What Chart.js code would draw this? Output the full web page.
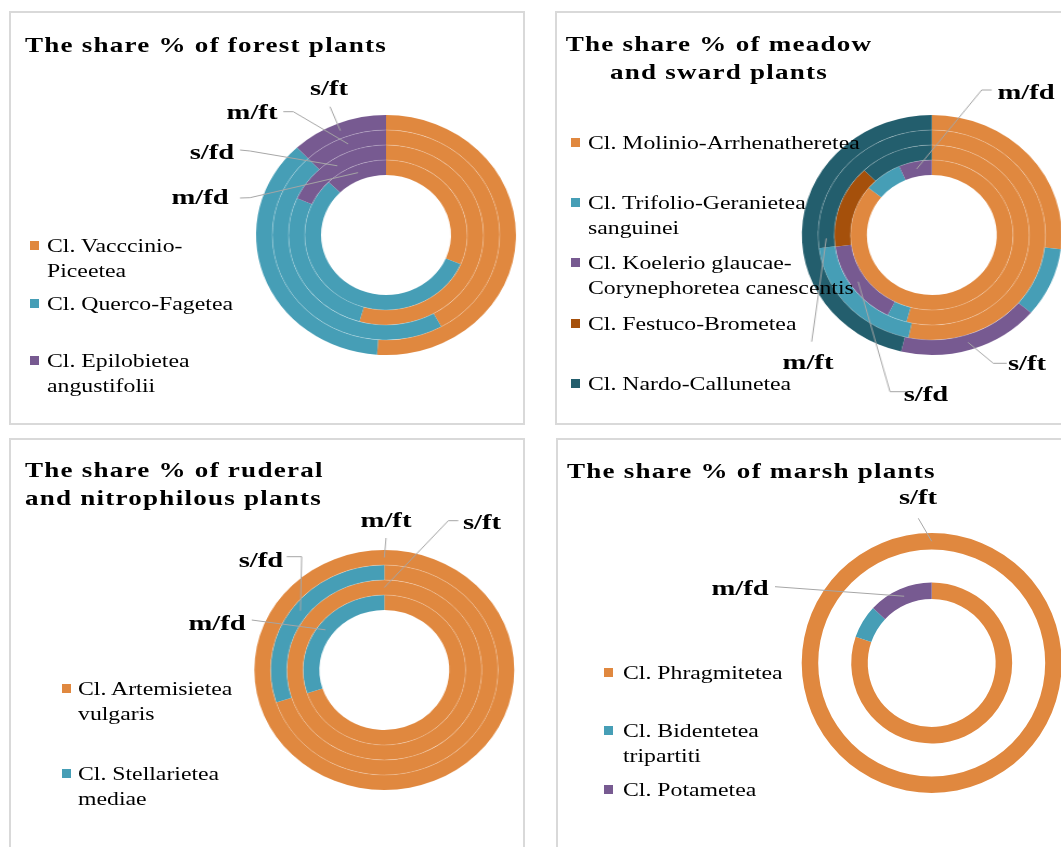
<!DOCTYPE html>
<html>
<head>
<meta charset="utf-8">
<script src="https://cdn.jsdelivr.net/npm/chart.js@4.4.1/dist/chart.umd.min.js"></script>
<style>
  html, body { margin: 0; padding: 0; width: 1061px; height: 847px; overflow: hidden; background: #fff; }
  .panel { position: absolute; width: 516px; height: 414px; overflow: hidden; }
  .panel::after { content: ''; position: absolute; inset: 0; border: 2px solid #d9d9d9; pointer-events: none; }
  .panel canvas { position: absolute; left: 0; top: 0; }
  .txt { position: absolute; white-space: pre; font-family: "Liberation Serif", "Times New Roman", serif; color: #000; }
  .title { font-weight: bold; font-size: 22px; line-height: 28px; letter-spacing: 1px; }
  .leg { font-size: 19px; line-height: 25px; }
  .ring { font-weight: bold; font-size: 22px; line-height: 26px; }
  .mark { position: absolute; width: 9px; height: 9px; }
</style>
</head>
<body>
<script>
// colours of the classes
const orange = '#E0883F', blue = '#469EB6', purple = '#775A91', brown = '#A5500B', teal = '#235E6D';

// forest plants (% share per ring)
const forestClasses = ['Cl. Vacccinio-\nPiceetea', 'Cl. Querco-Fagetea', 'Cl. Epilobietea\nangustifolii'];
const forestSft = [51.1, 36.9, 12.0];
const forestMft = [41.9, 46.1, 12.0];
const forestSfd = [54.4, 27.3, 18.3];
const forestMfd = [31.4, 56.1, 12.5];

// meadow and sward plants
const meadowClasses = ['Cl. Molinio-Arrhenatheretea', 'Cl. Trifolio-Geranietea\nsanguinei',
  'Cl. Koelerio glaucae-\nCorynephoretea canescentis', 'Cl. Festuco-Brometea', 'Cl. Nardo-Callunetea'];
const meadowSft = [26.9, 9.3, 17.6, 0, 46.2];
const meadowMft = [53.3, 19.7, 0, 0, 27.0];
const meadowSfd = [54.2, 3.3, 15.4, 14.9, 12.2];
const meadowMfd = [85.8, 7.6, 6.6, 0, 0];

// ruderal and nitrophilous plants
const ruderalClasses = ['Cl. Artemisietea\nvulgaris', 'Cl. Stellarietea\nmediae'];
const ruderalMft = [100, 0];
const ruderalSfd = [70, 30];
const ruderalSft = [100, 0];
const ruderalMfd = [70, 30];

// marsh plants
const marshClasses = ['Cl. Phragmitetea', 'Cl. Bidentetea\ntripartiti', 'Cl. Potametea'];
const marshSft = [100, 0, 0];
const marshMft = [0, 0, 0];
const marshSfd = [0, 0, 0];
const marshMfd = [80.3, 6.7, 13.0];

const W = 516, H = 414;

function addText(panel, str, x, yc, cls, lh, k, align) {
  const d = document.createElement('div');
  d.className = 'txt ' + cls;
  d.textContent = str;
  d.style.left = x + 'px';
  d.style.top = (yc - lh / 2) + 'px';
  if (align === 'center') {
    d.style.transformOrigin = '50% 50%';
    d.style.transform = 'translateX(-50%) scaleX(' + k + ')';
  } else {
    d.style.transformOrigin = '0 50%';
    d.style.transform = 'scaleX(' + k + ')';
  }
  panel.appendChild(d);
}

// leader lines and faint ring separators
const leaderPlugin = {
  id: 'leaders',
  afterDatasetsDraw(chart, args, opts) {
    const ctx = chart.ctx;
    const n = chart.data.datasets.length;
    ctx.save();
    ctx.strokeStyle = 'rgba(255,255,255,0.28)';
    ctx.lineWidth = 0.8;
    for (let i = 0; i < n - 1; i++) {
      const sumA = chart.data.datasets[i].data.reduce((a, b) => a + b, 0);
      const sumB = chart.data.datasets[i + 1].data.reduce((a, b) => a + b, 0);
      if (!sumA || !sumB) continue;
      const arc = chart.getDatasetMeta(i).data[0];
      ctx.beginPath();
      ctx.arc(arc.x, arc.y, arc.innerRadius, 0, Math.PI * 2);
      ctx.stroke();
    }
    ctx.strokeStyle = '#a6a6a6';
    ctx.lineWidth = 1;
    (opts.items || []).forEach(it => {
      const arc = chart.getDatasetMeta(it.ring).data[0];
      const r = (arc.innerRadius + arc.outerRadius) / 2;
      const a = (it.angle - 90) * Math.PI / 180;
      ctx.beginPath();
      it.path.forEach((p, i) => {
        const px = opts.cx + (p[0] - opts.cx) / opts.sx;
        if (i === 0) ctx.moveTo(px, p[1]); else ctx.lineTo(px, p[1]);
      });
      ctx.lineTo(arc.x + r * Math.cos(a), arc.y + r * Math.sin(a));
      ctx.stroke();
    });
    ctx.restore();
  }
};

function makePanel(cfg) {
  const panel = document.createElement('div');
  panel.className = 'panel';
  panel.style.left = cfg.left + 'px';
  panel.style.top = cfg.top + 'px';
  document.body.appendChild(panel);

  const canvas = document.createElement('canvas');
  canvas.width = W;
  canvas.height = H;
  canvas.style.width = W + 'px';
  canvas.style.height = H + 'px';
  canvas.style.transformOrigin = cfg.cx + 'px 50%';
  canvas.style.transform = 'scaleX(' + cfg.sx + ')';
  panel.appendChild(canvas);

  new Chart(canvas, {
    type: 'doughnut',
    data: {
      labels: cfg.classes,
      datasets: cfg.rings.map(d => ({
        data: d,
        backgroundColor: cfg.colors,
        borderWidth: 0,
        hoverOffset: 0
      }))
    },
    options: {
      responsive: false,
      animation: false,
      events: [],
      cutout: cfg.cutout,
      layout: {
        padding: {
          left: cfg.cx - cfg.r,
          right: W - cfg.cx - cfg.r,
          top: cfg.cy - cfg.r,
          bottom: H - cfg.cy - cfg.r
        }
      },
      plugins: {
        legend: { display: false },
        tooltip: { enabled: false },
        leaders: { items: cfg.labels, cx: cfg.cx, sx: cfg.sx }
      }
    },
    plugins: [leaderPlugin]
  });

  // title
  cfg.title.forEach((t, i) => addText(panel, t, cfg.titleX, cfg.titleY + i * 28, 'title', 28, 1.23, cfg.titleAlign));

  // legend
  cfg.classes.forEach((c, i) => {
    const y = cfg.legend.ys[i];
    const m = document.createElement('div');
    m.className = 'mark';
    m.style.background = cfg.colors[i];
    m.style.left = cfg.legend.markX + 'px';
    m.style.top = (y - 4.5) + 'px';
    panel.appendChild(m);
    c.split('\n').forEach((line, j) => addText(panel, line, cfg.legend.textX, y + j * 25, 'leg', 25, 1.25, 'left'));
  });

  // ring labels
  cfg.labels.forEach(l => addText(panel, l.text, l.x, l.y, 'ring', 26, 1.3, 'center'));
}

makePanel({
  left: 9, top: 11, cx: 377, cy: 224, r: 120, sx: 1.083, cutout: '50%',
  title: ['The share % of forest plants'], titleX: 16, titleY: 34, titleAlign: 'left',
  classes: forestClasses, colors: [orange, blue, purple],
  rings: [forestSft, forestMft, forestSfd, forestMfd],
  legend: { markX: 21, textX: 38, ys: [234, 292, 349] },
  labels: [
    { text: 's/ft', x: 320, y: 77, ring: 0, angle: 338, path: [[321, 95.7]] },
    { text: 'm/ft', x: 243, y: 101, ring: 1, angle: 339, path: [[274.3, 100.7], [284.3, 100.7]] },
    { text: 's/fd', x: 203, y: 141, ring: 2, angle: 327, path: [[231, 139], [241, 140]] },
    { text: 'm/fd', x: 191, y: 186, ring: 3, angle: 337.5, path: [[231, 187], [241, 186.7]] }
  ]
});

makePanel({
  left: 555, top: 11, cx: 376.8, cy: 224, r: 120, sx: 1.083, cutout: '50%',
  title: ['The share % of meadow', 'and sward plants'], titleX: 164, titleY: 33, titleAlign: 'center',
  classes: meadowClasses, colors: [orange, blue, purple, brown, teal],
  rings: [meadowSft, meadowMft, meadowSfd, meadowMfd],
  legend: { markX: 16, textX: 33, ys: [131, 191, 251, 312, 372] },
  labels: [
    { text: 'm/fd', x: 471, y: 81, ring: 3, angle: 348, path: [[436.7, 79], [426.7, 79]] },
    { text: 'm/ft', x: 253, y: 351, ring: 1, angle: 268, path: [[256.7, 330.7]] },
    { text: 's/fd', x: 371, y: 383, ring: 2, angle: 235.5, path: [[351, 380.7], [335, 380.7]] },
    { text: 's/ft', x: 472, y: 352, ring: 0, angle: 162.7, path: [[451.7, 352.3], [438.3, 352.3]] }
  ]
});

makePanel({
  left: 9, top: 438, cx: 375.3, cy: 232, r: 120, sx: 1.083, cutout: '50%',
  title: ['The share % of ruderal', 'and nitrophilous plants'], titleX: 16, titleY: 32, titleAlign: 'left',
  classes: ruderalClasses, colors: [orange, blue],
  rings: [ruderalMft, ruderalSfd, ruderalSft, ruderalMfd],
  legend: { markX: 53, textX: 69, ys: [250, 335] },
  labels: [
    { text: 'm/ft', x: 377, y: 82, ring: 0, angle: 0, path: [[377, 100]] },
    { text: 's/ft', x: 473, y: 84, ring: 2, angle: 0, path: [[449.3, 82.7], [439.3, 82.7]] },
    { text: 's/fd', x: 252, y: 122, ring: 1, angle: 307.4, path: [[277.7, 118.7], [292.7, 118.7]] },
    { text: 'm/fd', x: 208, y: 185, ring: 3, angle: 306.5, path: [[242.7, 182]] }
  ]
});

makePanel({
  left: 556, top: 438, cx: 375.7, cy: 225, r: 130, sx: 1, cutout: '49.2%',
  title: ['The share % of marsh plants'], titleX: 11, titleY: 33, titleAlign: 'left',
  classes: marshClasses, colors: [orange, blue, purple],
  rings: [marshSft, marshMft, marshSfd, marshMfd],
  legend: { markX: 48, textX: 67, ys: [234, 292, 351] },
  labels: [
    { text: 's/ft', x: 362, y: 59, ring: 0, angle: 0, path: [[362.3, 80.3]] },
    { text: 'm/fd', x: 184, y: 150, ring: 3, angle: 337.6, path: [[219, 148.7]] }
  ]
});
</script>
</body>
</html>
